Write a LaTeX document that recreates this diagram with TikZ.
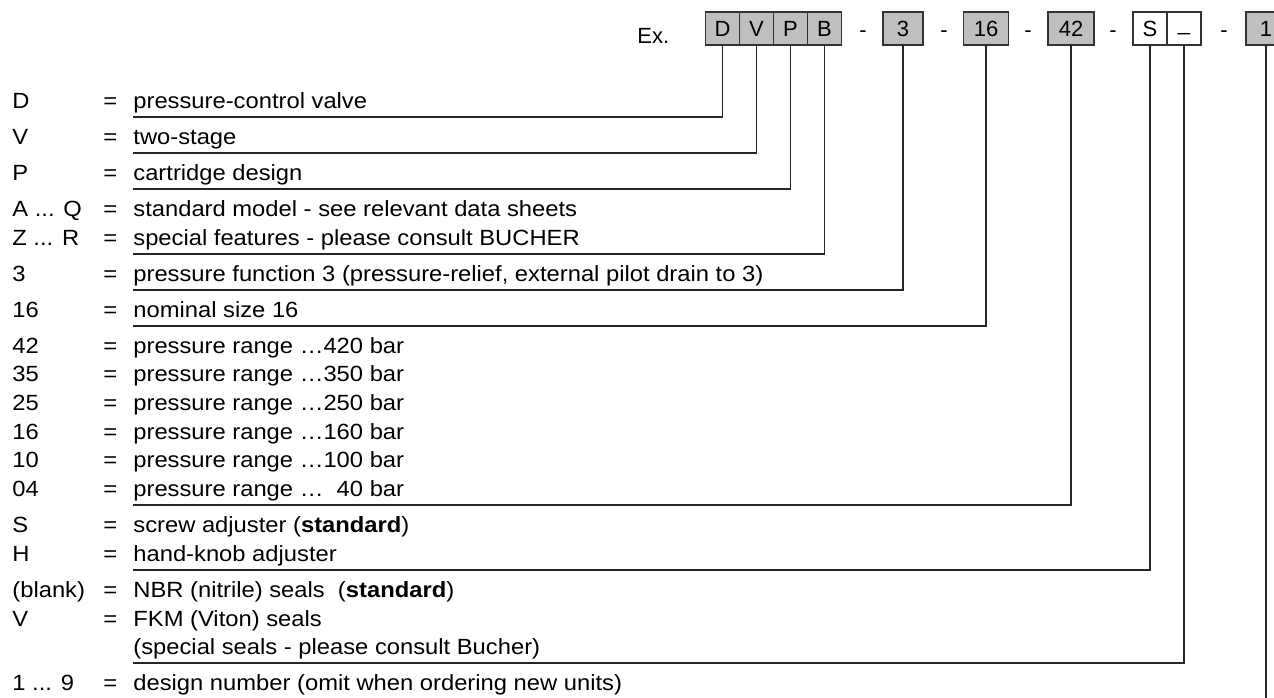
\documentclass[tikz,border=0pt]{standalone}
\usepackage{fontspec}
\setmainfont{Liberation Sans}
\newfontfamily\listfont[FakeStretch=1.08]{Liberation Sans}
\usetikzlibrary{positioning}

\tikzset{
  cell/.style={draw=black!80, line width=0.75pt, fill=black!25, outer sep=0pt,
               minimum width=17pt, minimum height=16.5pt, inner sep=0pt,
               text height=7.9pt, text depth=0pt, font=\fontsize{11}{13}\selectfont},
  blankcell/.style={cell, fill=white},
  head/.style={anchor=base, inner sep=0pt, font=\fontsize{11}{13}\selectfont},
  item/.style={anchor=base west, inner sep=0pt, font={\listfont\fontsize{11}{13}\selectfont}},
  lead/.style={draw=black!85, line width=0.75pt},
}

\begin{document}
\begin{tikzpicture}[x=0.5pt,y=-0.5pt]
  \useasboundingbox (0,0) rectangle (1274,697);

  % type code
  \node[head, anchor=base west] (ex) at (637,43) {Ex.};
  \node[cell] (bD) at (722.5,28.5) {D};
  \node[cell, right=0pt of bD] (bV) {V};
  \node[cell, right=0pt of bV] (bP) {P};
  \node[cell, right=0pt of bP] (bB) {B};
  \node[head] (d1) at (863,37) {-};
  \node[cell, minimum width=20pt] (b3) at (903,28.5) {3};
  \node[head] (d2) at (944,37) {-};
  \node[cell, minimum width=22.5pt] (b16) at (986,28.5) {16};
  \node[head] (d3) at (1028,37) {-};
  \node[cell, minimum width=23pt] (b42) at (1071,28.5) {42};
  \node[head] (d4) at (1113,37) {-};
  \node[blankcell] (bS) at (1150,28.5) {S};
  \node[blankcell, right=0pt of bS] (bU) {\raisebox{3pt}{\_}};
  \node[head] (d5) at (1224,37) {-};
  \node[cell, minimum width=20pt] (b1) at (1266,28.5) {1};
  \coordinate (end1) at (1266,700);

  % keys
  \node[item] (kD) at (12,108) {D};
  \node[item] (kV) at (12,144) {V};
  \node[item] (kP) at (12,180) {P};
  \node[item] (kAQ) at (12,216) {A ... Q};
  \node[item] (kZR) at (12,245) {Z ... R};
  \node[item] (k3) at (12,281) {3};
  \node[item] (k16) at (12,317) {16};
  \node[item] (k42) at (12,353) {42};
  \node[item] (k35) at (12,381) {35};
  \node[item] (k25) at (12,410) {25};
  \node[item] (k16b) at (12,439) {16};
  \node[item] (k10) at (12,467) {10};
  \node[item] (k04) at (12,496) {04};
  \node[item] (kS) at (12,532) {S};
  \node[item] (kH) at (12,561) {H};
  \node[item] (kblank) at (12,597) {(blank)};
  \node[item] (kFKM) at (12,626) {V};
  \node[item] (k19) at (12,690) {1 ... 9};

  % equal signs
  \foreach \y in {108,144,180,216,245,281,317,353,381,410,439,467,496,532,561,597,626,690}
    \node[item] at (103,\y) {=};

  % meanings
  \node[item] (tD) at (133,108) {pressure-control valve};
  \node[item] (tV) at (133,144) {two-stage};
  \node[item] (tP) at (133,180) {cartridge design};
  \node[item] (tAQ) at (133,216) {standard model - see relevant data sheets};
  \node[item] (tZR) at (133,245) {special features - please consult BUCHER};
  \node[item] (t3) at (133,281) {pressure function 3 (pressure-relief, external pilot drain to 3)};
  \node[item] (t16) at (133,317) {nominal size 16};
  \node[item] (t42) at (133,353) {pressure range …420 bar};
  \node[item] (t35) at (133,381) {pressure range …350 bar};
  \node[item] (t25) at (133,410) {pressure range …250 bar};
  \node[item] (t16b) at (133,439) {pressure range …160 bar};
  \node[item] (t10) at (133,467) {pressure range …100 bar};
  \node[item] (t04) at (133,496) {pressure range …\hphantom{0}40 bar};
  \node[item] (tS) at (133,532) {screw adjuster (\textbf{standard})};
  \node[item] (tH) at (133,561) {hand-knob adjuster};
  \node[item] (tblank) at (133,597) {NBR (nitrile) seals\ \ (\textbf{standard})};
  \node[item] (tFKM) at (133,626) {FKM (Viton) seals};
  \node[item] (tspec) at (133,654) {(special seals - please consult Bucher)};
  \node[item] (t19) at (133,690) {design number (omit when ordering new units)};

  % leader lines
  \draw[lead] ([yshift=-4.5pt]tD.base west) -| (bD.south);
  \draw[lead] ([yshift=-4.5pt]tV.base west) -| (bV.south);
  \draw[lead] ([yshift=-4.5pt]tP.base west) -| (bP.south);
  \draw[lead] ([yshift=-4.5pt]tZR.base west) -| (bB.south);
  \draw[lead] ([yshift=-4.5pt]t3.base west) -| (b3.south);
  \draw[lead] ([yshift=-4.5pt]t16.base west) -| (b16.south);
  \draw[lead] ([yshift=-4.5pt]t04.base west) -| (b42.south);
  \draw[lead] ([yshift=-4.5pt]tH.base west) -| (bS.south);
  \draw[lead] ([yshift=-4.5pt]tspec.base west) -| (bU.south);
  \draw[lead] (b1.south) -- (end1);
\end{tikzpicture}
\end{document}
